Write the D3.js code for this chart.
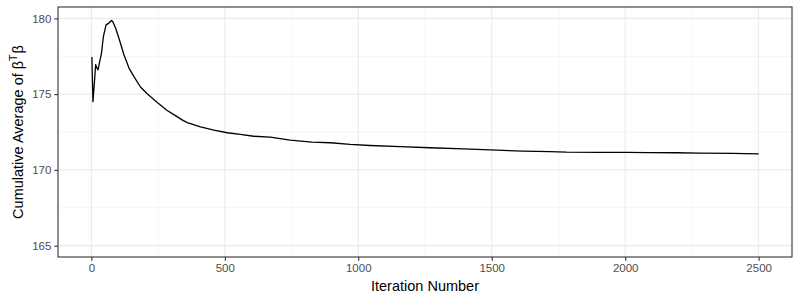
<!DOCTYPE html>
<html>
<head>
<meta charset="utf-8">
<script src="https://cdn.jsdelivr.net/npm/d3@7/dist/d3.min.js"></script>
<style>
  body { margin: 0; background: #fff; }
  svg { display: block; font-family: "Liberation Sans", Arial, sans-serif; }
</style>
</head>
<body>
<svg id="chart" width="800" height="300"></svg>
<script>
// Cumulative average trace
const iterations = [1, 2, 6, 12, 16, 20, 25, 30, 38, 45, 55, 63, 75, 80, 91, 103, 122, 141, 159, 184, 209, 247, 284, 315, 340, 359, 409, 459, 509, 558, 608, 670, 745, 826, 895, 970, 1044, 1157, 1269, 1394, 1518, 1618, 1718, 1780, 1904, 2004, 2092, 2191, 2279, 2403, 2500];
const cumAvg = [177.45, 177.4, 174.5, 175.9, 176.95, 176.75, 176.6, 177.05, 177.7, 178.8, 179.57, 179.65, 179.86, 179.8, 179.35, 178.7, 177.6, 176.72, 176.17, 175.47, 175.02, 174.45, 173.92, 173.58, 173.3, 173.12, 172.84, 172.62, 172.45, 172.34, 172.22, 172.16, 171.96, 171.83, 171.79, 171.68, 171.61, 171.53, 171.46, 171.39, 171.3, 171.24, 171.2, 171.17, 171.16, 171.15, 171.14, 171.13, 171.1, 171.09, 171.06];

const xTicks = [0, 500, 1000, 1500, 2000, 2500];
const xMinor = [250, 750, 1250, 1750, 2250];
const yTicks = [165, 170, 175, 180];
const yMinor = [167.5, 172.5, 177.5];

const panel = { left: 58, right: 792, top: 7, bottom: 257 };

const svg = d3.select('#chart');

const x = d3.scaleLinear().domain([-125, 2625]).range([panel.left, panel.right]);
const y = d3.scaleLinear().domain([164.25, 180.75]).range([panel.bottom, panel.top]);

const grid = svg.append('g');

// minor grid
grid.selectAll('.xminor').data(xMinor).join('line')
    .attr('class', 'xminor')
    .attr('x1', d => x(d)).attr('x2', d => x(d))
    .attr('y1', panel.top).attr('y2', panel.bottom)
    .attr('stroke', '#ebebeb').attr('stroke-width', 0.55);
grid.selectAll('.yminor').data(yMinor).join('line')
    .attr('class', 'yminor')
    .attr('x1', panel.left).attr('x2', panel.right)
    .attr('y1', d => y(d)).attr('y2', d => y(d))
    .attr('stroke', '#ebebeb').attr('stroke-width', 0.55);

// major grid
grid.selectAll('.xmajor').data(xTicks).join('line')
    .attr('class', 'xmajor')
    .attr('x1', d => x(d)).attr('x2', d => x(d))
    .attr('y1', panel.top).attr('y2', panel.bottom)
    .attr('stroke', '#ebebeb').attr('stroke-width', 1.1);
grid.selectAll('.ymajor').data(yTicks).join('line')
    .attr('class', 'ymajor')
    .attr('x1', panel.left).attr('x2', panel.right)
    .attr('y1', d => y(d)).attr('y2', d => y(d))
    .attr('stroke', '#ebebeb').attr('stroke-width', 1.1);

// the trace
const line = d3.line()
    .x((d, i) => x(iterations[i]))
    .y(d => y(d));

svg.append('path')
    .datum(cumAvg)
    .attr('d', line)
    .attr('fill', 'none')
    .attr('stroke', '#000')
    .attr('stroke-width', 1.3)
    .attr('stroke-linejoin', 'round');

// axes
const xAxis = d3.axisBottom(x).tickValues(xTicks).tickFormat(d3.format('d')).tickSize(3.7).tickPadding(3);
const yAxis = d3.axisLeft(y).tickValues(yTicks).tickFormat(d3.format('d')).tickSize(3.7).tickPadding(3);

const gx = svg.append('g')
    .attr('transform', `translate(0,${panel.bottom})`)
    .call(xAxis);
const gy = svg.append('g')
    .attr('transform', `translate(${panel.left},0)`)
    .call(yAxis);

[gx, gy].forEach(g => {
    g.select('.domain').remove();
    g.selectAll('.tick line').attr('stroke', '#333').attr('stroke-width', 1.1);
    g.selectAll('.tick text')
        .attr('fill', '#4d4d4d')
        .style('font-size', '11.5px')
        .style('font-family', '"Liberation Sans", Arial, sans-serif');
});

// panel border
svg.append('rect')
    .attr('x', panel.left).attr('y', panel.top)
    .attr('width', panel.right - panel.left)
    .attr('height', panel.bottom - panel.top)
    .attr('fill', 'none')
    .attr('stroke', '#333')
    .attr('stroke-width', 1.1);

// axis titles
svg.append('text')
    .attr('x', (panel.left + panel.right) / 2)
    .attr('y', 291)
    .attr('text-anchor', 'middle')
    .style('font-size', '14.5px')
    .attr('fill', '#000')
    .text('Iteration Number');

const yTitle = svg.append('text')
    .attr('transform', `translate(23,${(panel.top + panel.bottom) / 2}) rotate(-90)`)
    .attr('text-anchor', 'middle')
    .style('font-size', '14.5px')
    .attr('fill', '#000');
yTitle.append('tspan').text('Cumulative Average of β');
yTitle.append('tspan').attr('dy', -6).style('font-size', '10.5px').text('T');
yTitle.append('tspan').attr('dy', 6).attr('dx', 1).text('β');
</script>
</body>
</html>
